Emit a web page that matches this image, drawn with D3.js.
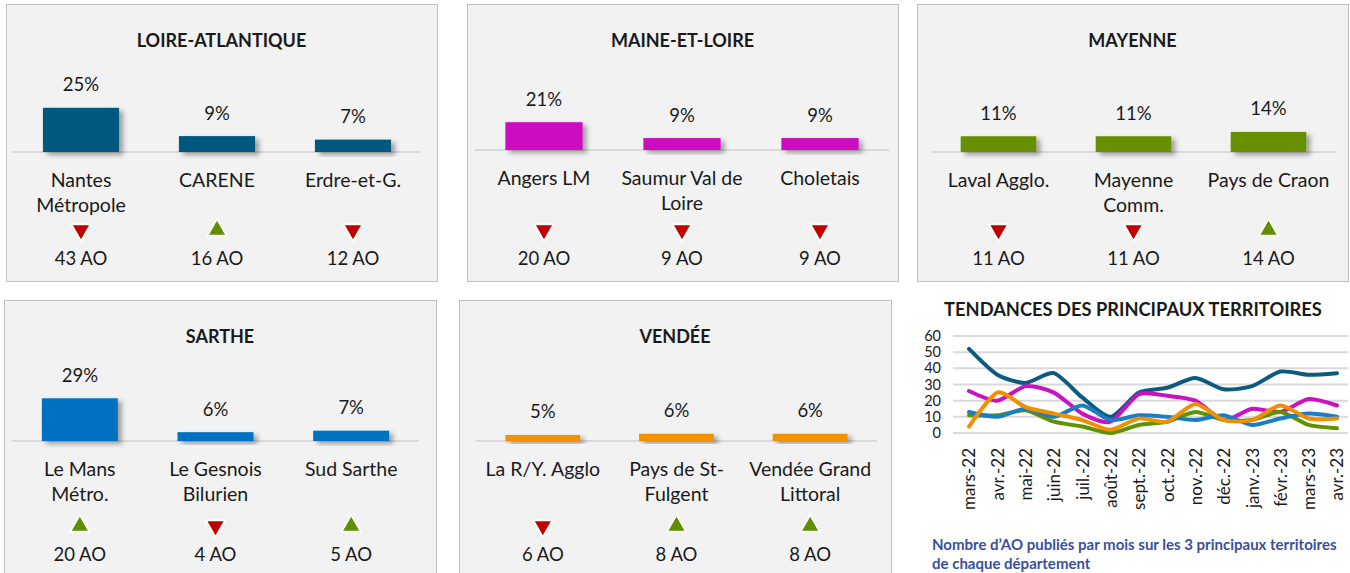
<!DOCTYPE html>
<html>
<head>
<meta charset="utf-8">
<script src="https://cdn.jsdelivr.net/npm/d3@7"></script>
<style>
  body { margin: 0; background: #fff; }
  text { font-family: Lato, "Noto Sans", sans-serif; fill: #1a1a1a; }
</style>
</head>
<body>
<div id="chart"></div>
<script>
// department panels
const departments = ["LOIRE-ATLANTIQUE", "MAINE-ET-LOIRE", "MAYENNE", "SARTHE", "VENDÉE"];
const territories = [
  ["Nantes\nMétropole", "CARENE", "Erdre-et-G."],
  ["Angers LM", "Saumur Val de\nLoire", "Choletais"],
  ["Laval Agglo.", "Mayenne\nComm.", "Pays de Craon"],
  ["Le Mans\nMétro.", "Le Gesnois\nBilurien", "Sud Sarthe"],
  ["La R/Y. Agglo", "Pays de St-\nFulgent", "Vendée Grand\nLittoral"]
];
const shares = [[25, 9, 7], [21, 9, 9], [11, 11, 14], [29, 6, 7], [5, 6, 6]];
const aoCounts = [[43, 16, 12], [20, 9, 9], [11, 11, 14], [20, 4, 5], [6, 8, 8]];
const trends = [
  ["down", "up", "down"],
  ["down", "down", "down"],
  ["down", "down", "up"],
  ["up", "down", "up"],
  ["down", "up", "up"]
];
const axisMax = [30, 40, 37, 36, 44]; // value axis max of each small chart (%)

// trend chart
const months = ["mars-22", "avr.-22", "mai-22", "juin-22", "juil.-22", "août-22", "sept.-22",
  "oct.-22", "nov.-22", "déc.-22", "janv.-23", "févr.-23", "mars-23", "avr.-23"];
const loireAtlantique = [52, 36, 31, 37, 22, 10, 25, 28, 34, 27, 29, 38, 36, 37];
const maineEtLoire   = [26, 20, 29, 25, 12, 7, 24, 23, 20, 8, 15, 13, 21, 17];
const mayenne        = [11, 11, 14, 7, 4, 0, 5, 7, 13, 8, 8, 13, 5, 3];
const sarthe         = [13, 10, 15, 10, 17, 8, 11, 10, 8, 11, 5, 9, 12, 10];
const vendee         = [4, 25, 16, 12, 8, 2, 9, 7, 18, 8, 8, 17, 9, 9];
const yTicks = [0, 10, 20, 30, 40, 50, 60];

const colors = ["#02587f", "#cc10bf", "#669000", "#0070c0", "#f39200"];
const lineColors = ["#0b5b80", "#cc11c0", "#5f9100", "#1b7dc4", "#f18f00"];

const svg = d3.select("#chart").append("svg")
  .attr("width", 1350).attr("height", 573);

const defs = svg.append("defs");
defs.append("filter").attr("id", "shadow")
  .attr("x", "-20%").attr("y", "-20%").attr("width", "150%").attr("height", "160%")
  .append("feDropShadow")
    .attr("dx", 4).attr("dy", 3).attr("stdDeviation", 2.5)
    .attr("flood-color", "#000").attr("flood-opacity", 0.35);

// panel boxes (l / r = inset of the category axis)
const panels = [
  {x: 6, y: 4, w: 431, h: 277, base: 148, l: 7, r: 16},
  {x: 467, y: 4, w: 431, h: 277, base: 146, l: 8, r: 9},
  {x: 917, y: 4, w: 431, h: 277, base: 148, l: 14, r: 12},
  {x: 4, y: 300, w: 432, h: 290, base: 141, l: 8, r: 17},
  {x: 459, y: 300, w: 432, h: 290, base: 141, l: 17, r: 14}
];

const triOuter = d3.symbol().type(d3.symbolTriangle).size(215);
const triInner = d3.symbol().type(d3.symbolTriangle).size(112);

panels.forEach(function(p, i) {
  const g = svg.append("g").attr("transform", "translate(" + p.x + "," + p.y + ")");

  g.append("rect")
    .attr("x", 0.5).attr("y", 0.5)
    .attr("width", p.w).attr("height", p.h)
    .attr("fill", "#f2f2f2").attr("stroke", "#bfbfbf");

  g.append("text")
    .attr("x", p.w / 2).attr("y", 37)
    .attr("dy", "0.35em")
    .attr("text-anchor", "middle")
    .style("font-weight", "bold").style("font-size", "18px")
    .text(departments[i]);

  const x = d3.scaleBand()
    .domain(territories[i])
    .range([p.l, p.w - p.r])
    .paddingInner(0.44).paddingOuter(0.22);

  const y = d3.scaleLinear()
    .domain([0, axisMax[i]])
    .range([p.base, p.base - 53]);

  g.append("line")
    .attr("x1", p.l).attr("x2", p.w - p.r)
    .attr("y1", p.base).attr("y2", p.base)
    .attr("stroke", "#d9d9d9").attr("stroke-width", 2);

  const rows = territories[i].map((t, j) => ({
    name: t, share: shares[i][j], ao: aoCounts[i][j], trend: trends[i][j]
  }));
  const cx = d => x(d.name) + x.bandwidth() / 2;

  g.selectAll(".bar")
    .data(rows).enter()
    .append("rect")
      .attr("class", "bar")
      .attr("x", d => x(d.name))
      .attr("y", d => y(d.share))
      .attr("width", x.bandwidth())
      .attr("height", d => y(0) - y(d.share))
      .attr("fill", colors[i])
      .attr("filter", "url(#shadow)");

  g.selectAll(".pct")
    .data(rows).enter()
    .append("text")
      .attr("x", cx)
      .attr("y", d => y(d.share) - 23)
      .attr("dy", "0.35em")
      .attr("text-anchor", "middle")
      .style("font-size", "18.5px")
      .text(d => d.share + "%");

  // category labels (may hold a line break)
  g.selectAll(".cat")
    .data(rows).enter()
    .append("text")
      .attr("text-anchor", "middle")
      .style("font-size", "19.5px")
      .each(function(d) {
        d.name.split("\n").forEach((line, k) => {
          d3.select(this).append("tspan")
            .attr("x", cx(d))
            .attr("y", p.base + 28 + k * 25.5)
            .attr("dy", "0.35em")
            .text(line);
        });
      });

  const triPos = d => "translate(" + cx(d) + ",226)" + (d.trend === "down" ? " rotate(180)" : "");
  g.selectAll(".trendBg")
    .data(rows).enter()
    .append("path")
      .attr("d", triOuter)
      .attr("transform", triPos)
      .attr("fill", "#fff");
  g.selectAll(".trend")
    .data(rows).enter()
    .append("path")
      .attr("d", triInner)
      .attr("transform", triPos)
      .attr("fill", d => d.trend === "down" ? "#c00000" : "#5f8f00");

  g.selectAll(".ao")
    .data(rows).enter()
    .append("text")
      .attr("x", cx)
      .attr("y", 255)
      .attr("dy", "0.35em")
      .attr("text-anchor", "middle")
      .style("font-size", "18.5px")
      .text(d => d.ao + " AO");
});

// trend line chart
const lc = svg.append("g");

lc.append("text")
  .attr("x", 1133).attr("y", 310)
  .attr("dy", "0.35em")
  .attr("text-anchor", "middle")
  .style("font-weight", "bold").style("font-size", "18.3px")
  .text("TENDANCES DES PRINCIPAUX TERRITOIRES");

const lx = d3.scalePoint().domain(months).range([969, 1337]);
const ly = d3.scaleLinear().domain([0, 60]).range([433, 336]);

lc.selectAll(".grid")
  .data(yTicks).enter()
  .append("line")
    .attr("x1", 953).attr("x2", 1348)
    .attr("y1", d => ly(d)).attr("y2", d => ly(d))
    .attr("stroke", "#d9d9d9").attr("stroke-width", 2);

const yAxis = lc.append("g")
  .attr("transform", "translate(941,0)")
  .call(d3.axisLeft(ly).tickValues(yTicks).tickSize(0).tickPadding(0));
yAxis.select(".domain").remove();
yAxis.selectAll("text")
  .style("font-size", "14.5px").style("font-family", "Lato, sans-serif").attr("fill", "#1a1a1a");

const xAxis = lc.append("g")
  .attr("transform", "translate(0,441)")
  .call(d3.axisBottom(lx).tickSize(0).tickPadding(0));
xAxis.select(".domain").remove();
xAxis.selectAll("text")
  .style("font-size", "17px").style("font-family", "Lato, sans-serif").attr("fill", "#1a1a1a")
  .attr("text-anchor", "end")
  .attr("transform", "rotate(-90)")
  .attr("x", -7).attr("y", 0).attr("dy", "0.35em");

const series = [loireAtlantique, maineEtLoire, mayenne, sarthe, vendee];
const line = d3.line()
  .x((d, i) => lx(months[i]))
  .y(d => ly(d))
  .curve(d3.curveCardinal.tension(0.3));

// draw order as in the source: dark blue, magenta, green, blue, orange
lc.selectAll(".series")
  .data(series).enter()
  .append("path")
    .attr("d", line)
    .attr("fill", "none")
    .attr("stroke", (d, i) => lineColors[i])
    .attr("stroke-width", 4)
    .attr("stroke-linecap", "round")
    .attr("stroke-linejoin", "round");

lc.append("text")
  .attr("x", 932).attr("y", 545)
  .attr("dy", "0.35em")
  .style("font-weight", "bold").style("font-size", "15px").style("fill", "#3a4f9e")
  .text("Nombre d’AO publiés par mois sur les 3 principaux territoires");
lc.append("text")
  .attr("x", 932).attr("y", 564)
  .attr("dy", "0.35em")
  .style("font-weight", "bold").style("font-size", "15px").style("fill", "#3a4f9e")
  .text("de chaque département");
</script>
</body>
</html>
